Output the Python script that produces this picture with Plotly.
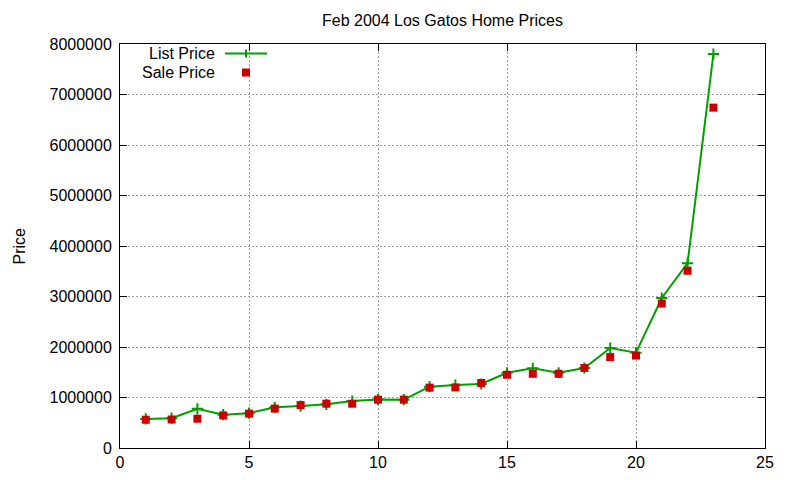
import plotly.graph_objects as go

# house index on the x axis, prices
house = list(range(1, 24))
list_price = [575000, 590000, 775000, 660000, 690000, 805000, 830000, 865000,
              930000, 960000, 957000, 1214000, 1247000, 1267000, 1490000,
              1578000, 1490000, 1584000, 1980000, 1887000, 2970000, 3660000,
              7800000]
sale_price = [560000, 565000, 580000, 645000, 680000, 780000, 850000, 877000,
              877000, 957000, 957000, 1195000, 1200000, 1287000, 1450000,
              1470000, 1470000, 1584000, 1800000, 1830000, 2860000, 3510000,
              6740000]

GREEN = "#00a000"
RED = "#cc0000"
FONT = "Liberation Sans, Arial, sans-serif"

# the page body has an 8px margin, so work in figure pixels = window - 8
OFF = 8
W, H = 800 - 2 * OFF, 480 - 2 * OFF
L, R, T, B = 120 - OFF, 765 - OFF, 44 - OFF, 448 - OFF


def px(x):
    # window pixel -> paper x
    return (x - OFF - L) / (R - L)


def py(y):
    # window pixel -> paper y
    return (B - (y - OFF)) / (B - T)


fig = go.Figure()

fig.add_trace(go.Scatter(
    x=house, y=list_price, name="List Price",
    mode="lines+markers",
    line=dict(color=GREEN, width=2),
    marker=dict(symbol="cross-thin", size=8, line=dict(color=GREEN, width=2)),
))
fig.add_trace(go.Scatter(
    x=house, y=sale_price, name="Sale Price",
    mode="markers",
    marker=dict(symbol="square", size=8, color=RED),
))

# ── gnuplot style key (text on the left, sample on the right) ──
KEY_LIST_Y, KEY_SALE_Y = 53.5, 72.5
key_rows = [("List Price", KEY_LIST_Y), ("Sale Price", KEY_SALE_Y)]
for label, ypix in key_rows:
    fig.add_annotation(
        xref="paper", yref="paper", x=px(216), y=py(ypix),
        text=label, showarrow=False, xanchor="right", yanchor="middle",
        borderpad=0,
        font=dict(family=FONT, size=16, color="black"),
    )

fig.add_shape(type="line", xref="paper", yref="paper",
              x0=px(225), x1=px(267), y0=py(KEY_LIST_Y), y1=py(KEY_LIST_Y),
              line=dict(color=GREEN, width=2))
fig.add_shape(type="line", xref="paper", yref="paper",
              x0=px(246), x1=px(246),
              y0=py(KEY_LIST_Y - 4), y1=py(KEY_LIST_Y + 4),
              line=dict(color=GREEN, width=2))
fig.add_shape(type="rect", xref="paper", yref="paper",
              x0=px(242), x1=px(250),
              y0=py(KEY_SALE_Y - 4), y1=py(KEY_SALE_Y + 4),
              fillcolor=RED, line=dict(width=0))

# y axis title (as far left as the figure allows)
fig.add_annotation(
    xref="paper", yref="paper", x=px(OFF), y=py(246),
    text="Price", textangle=-90, showarrow=False,
    xanchor="left", yanchor="middle",
    font=dict(family=FONT, size=16, color="black"),
)

fig.update_layout(
    width=W, height=H,
    title=dict(text="Feb 2004 Los Gatos Home Prices",
               x=(L + R) / 2 / W, xanchor="center",
               y=1 - (20 - OFF) / H, yanchor="middle",
               font=dict(family=FONT, size=16, color="black")),
    showlegend=False,
    plot_bgcolor="white",
    paper_bgcolor="white",
    font=dict(family=FONT, size=16, color="black"),
    margin=dict(l=L, r=W - R, t=T, b=H - B),
)

axis_style = dict(
    showline=True, linecolor="black", linewidth=1, mirror="ticks",
    ticks="inside", ticklen=7, tickcolor="black", tickwidth=1,
    showgrid=True, gridcolor="#a0a0a0", gridwidth=1, griddash="2px,2px",
    zeroline=False, automargin=False,
    tickfont=dict(family=FONT, size=16, color="black"),
)

fig.update_xaxes(range=[0, 25], dtick=5, tick0=0, **axis_style)
fig.update_yaxes(range=[0, 8000000], dtick=1000000, tick0=0,
                 tickformat="d", ticklabelstandoff=4, **axis_style)

fig.write_html("out.html")
